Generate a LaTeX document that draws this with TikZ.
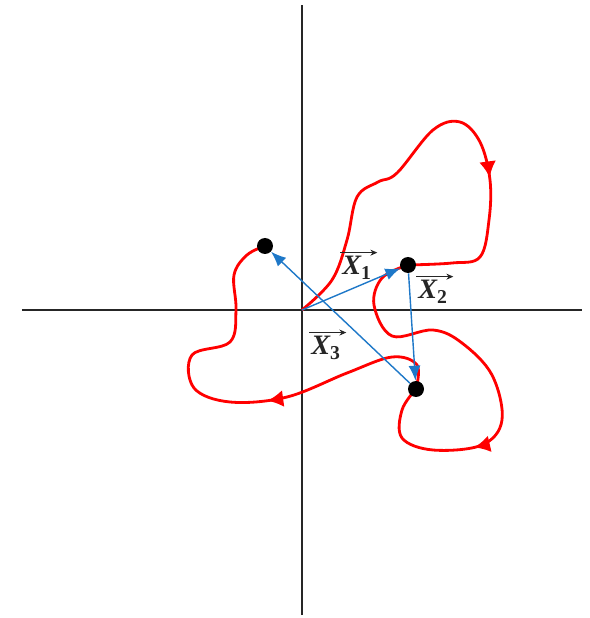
\documentclass[tikz,border=0pt]{standalone}
\usepackage{amsmath,amssymb}
\usepackage{fontspec}
\setmainfont{Liberation Serif}
\usetikzlibrary{arrows.meta,decorations.markings}
\definecolor{vecblue}{RGB}{30,120,200}

\begin{document}
\begin{tikzpicture}[x=0.02cm,y=0.02cm,
    axis/.style={line width=0.7pt,black!85},
    loopline/.style={red,line width=1.6pt,line join=round},
    dot/.style={circle,fill=black,inner sep=0pt,minimum size=0.32cm},
    vec/.style={vecblue,line width=0.8pt,-{Latex[length=3mm,width=2.4mm]}},
    veclabel/.style={font=\fontsize{16}{18}\bfseries\itshape,text=black!85,inner sep=1pt},
    overarrow/.style={black!85,line width=0.6pt,-{Stealth[length=1.4mm,width=1.2mm]}},
    midarrow/.style={postaction={decorate},
        decoration={markings,mark=at position #1 with {\arrow{Latex[length=3.2mm,width=3.4mm]}}}}]
    \useasboundingbox (-302,-308) rectangle (287,310);
    \draw[axis] (-280,0) -- (280,0);
    \draw[axis] (0,-305) -- (0,305);
    \coordinate (o) at (0,0);
    \coordinate (c1) at (106,45);
    \coordinate (c2) at (114,-79);
    \coordinate (c3) at (-37,64);
    \draw[loopline,midarrow=0.68] plot[smooth,tension=0.6] coordinates {(o) (30,30) (45,70)
        (55,113) (76,128) (95,137) (131,180) (158,188) (178,168) (188,130) (187,90)
        (178,53) (150,47) (c1)};
    \draw[loopline,midarrow=0.70] plot[smooth,tension=0.6] coordinates {(c1) (80,32) (72,5)
        (90,-26) (131,-20) (160,-33) (190,-65) (200,-110) (180,-135) (131,-140)
        (100,-128) (100,-100) (c2)};
    \draw[loopline,midarrow=0.41] plot[smooth,tension=0.6] coordinates {(c2) (115,-55) (90,-47)
        (45,-63) (-15,-87) (-72,-92) (-108,-78) (-110,-45) (-72,-32) (-66,0) (-68,35)
        (-55,55) (c3)};
    \node[dot] (p1) at (c1) {};
    \node[dot] (p2) at (c2) {};
    \node[dot] (p3) at (c3) {};
    \draw[vec] (o) -- (p1);
    \draw[vec] (p1) -- (p2);
    \draw[vec] (p2) -- (p3);
    \node[veclabel] (l1) at (55,42) {X\textsubscript{\upshape 1}};
    \node[veclabel] (l2) at (131,18) {X\textsubscript{\upshape 2}};
    \node[veclabel] (l3) at (24,-38) {X\textsubscript{\upshape 3}};
    \foreach \l in {l1,l2,l3}
        \draw[overarrow] ([yshift=1pt]\l.north west) -- ([xshift=2pt,yshift=1pt]\l.north east);
\end{tikzpicture}
\end{document}
